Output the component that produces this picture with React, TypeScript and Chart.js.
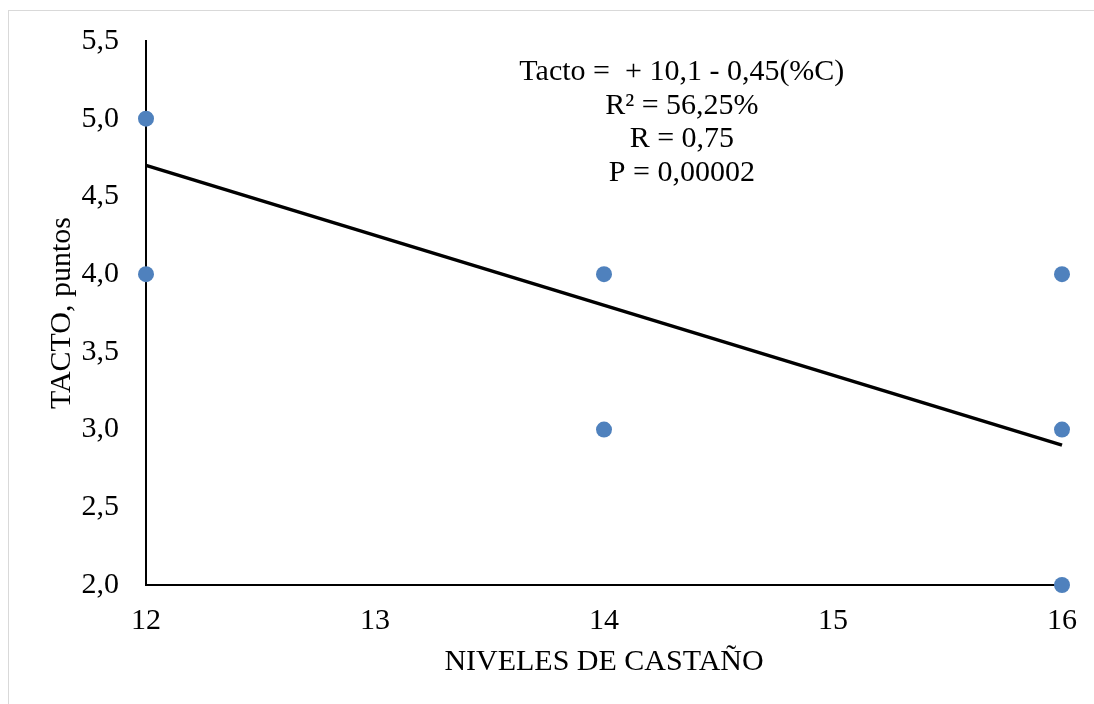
import React, { useEffect, useRef } from "react";
import { Chart, registerables } from "chart.js";

Chart.register(...registerables);

// Observed sensory scores per chestnut level
const castanoLevels = [12, 12, 14, 14, 16, 16, 16];
const tactoScores = [5, 4, 4, 3, 4, 3, 2];

// Fitted regression: Tacto = 10.1 - 0.45 * (%C)
const intercept = 10.1;
const slope = -0.45;
const trendRange = [12, 16];

const yTicks = [2.0, 2.5, 3.0, 3.5, 4.0, 4.5, 5.0, 5.5];
const xTicks = [12, 13, 14, 15, 16];

const equationLines = [
  "Tacto =  + 10,1 - 0,45(%C)",
  "R² = 56,25%",
  "R = 0,75",
  "P = 0,00002",
];

const FONT = "'Liberation Serif', 'Times New Roman', serif";
const FONT_SIZE = 30;

const fmtComma = (v: number) => v.toFixed(1).replace(".", ",");

// Invisible tick marks: they only reserve space between axis line and labels
const hiddenGrid = {
  display: true,
  drawOnChartArea: false,
  drawTicks: true,
  tickLength: 10,
  color: "rgba(0,0,0,0)",
};

const equationPlugin = {
  id: "equationText",
  afterDatasetsDraw(chart: any) {
    const { ctx, chartArea } = chart;
    const cx = chartArea.left + (chartArea.right - chartArea.left) * 0.585;
    const firstBaseline = 80;
    const step = 33.7;
    ctx.save();
    ctx.font = `${FONT_SIZE}px ${FONT}`;
    ctx.fillStyle = "#000";
    ctx.textAlign = "center";
    ctx.textBaseline = "alphabetic";
    equationLines.forEach((line, i) => {
      ctx.fillText(line, cx, firstBaseline + i * step);
    });
    ctx.restore();
  },
};

export default function App() {
  const canvasRef = useRef<HTMLCanvasElement | null>(null);

  useEffect(() => {
    document.body.style.overflow = "hidden";
    const canvas = canvasRef.current;
    if (!canvas) return;

    const scatterPoints = castanoLevels.map((x, i) => ({ x, y: tactoScores[i] }));
    const trendPoints = trendRange.map((x) => ({ x, y: intercept + slope * x }));

    const chart = new Chart(canvas, {
      type: "scatter",
      data: {
        datasets: [
          {
            type: "line",
            data: trendPoints,
            borderColor: "#000",
            borderWidth: 3.5,
            pointRadius: 0,
            fill: false,
            clip: false,
          } as any,
          {
            data: scatterPoints,
            backgroundColor: "#4f81bd",
            borderColor: "#4f81bd",
            pointRadius: 8,
            pointHoverRadius: 8,
            borderWidth: 0,
            clip: false,
          } as any,
        ],
      },
      options: {
        responsive: false,
        animation: false,
        devicePixelRatio: 1,
        layout: { padding: { left: 0, top: 41, right: 32, bottom: 0 } },
        plugins: {
          legend: { display: false },
          tooltip: { enabled: false },
        },
        scales: {
          x: {
            type: "linear",
            min: 12,
            max: 16,
            afterBuildTicks: (scale: any) => {
              scale.ticks = xTicks.map((v) => ({ value: v }));
            },
            afterFit: (scale: any) => {
              scale.height = 119;
            },
            grid: hiddenGrid,
            border: { display: true, color: "#000", width: 2 },
            ticks: {
              padding: 8,
              color: "#000",
              font: { family: FONT, size: FONT_SIZE },
              callback: (v: any) => String(v),
            },
            title: {
              display: true,
              text: "NIVELES DE CASTAÑO",
              color: "#000",
              font: { family: FONT, size: FONT_SIZE },
              padding: { top: 0, bottom: 24 },
            },
          },
          y: {
            type: "linear",
            min: 2,
            max: 5.5,
            afterBuildTicks: (scale: any) => {
              scale.ticks = yTicks.map((v) => ({ value: v }));
            },
            afterFit: (scale: any) => {
              scale.width = 146;
            },
            grid: hiddenGrid,
            border: { display: true, color: "#000", width: 2 },
            ticks: {
              padding: 17,
              color: "#000",
              font: { family: FONT, size: FONT_SIZE },
              callback: (v: any) => fmtComma(Number(v)),
            },
            title: {
              display: true,
              text: "TACTO, puntos",
              color: "#000",
              font: { family: FONT, size: FONT_SIZE },
              padding: { top: 44, bottom: 0 },
            },
          },
        },
      },
      plugins: [equationPlugin],
    });

    return () => chart.destroy();
  }, []);

  return (
    <>
      <div
        style={{
          position: "fixed",
          left: 8,
          top: 10,
          width: 1200,
          height: 800,
          border: "1px solid #d9d9d9",
          boxSizing: "border-box",
        }}
      />
      <div style={{ position: "fixed", left: 0, top: 0, width: 1094, height: 704 }}>
        <canvas ref={canvasRef} width={1094} height={704} />
      </div>
    </>
  );
}
